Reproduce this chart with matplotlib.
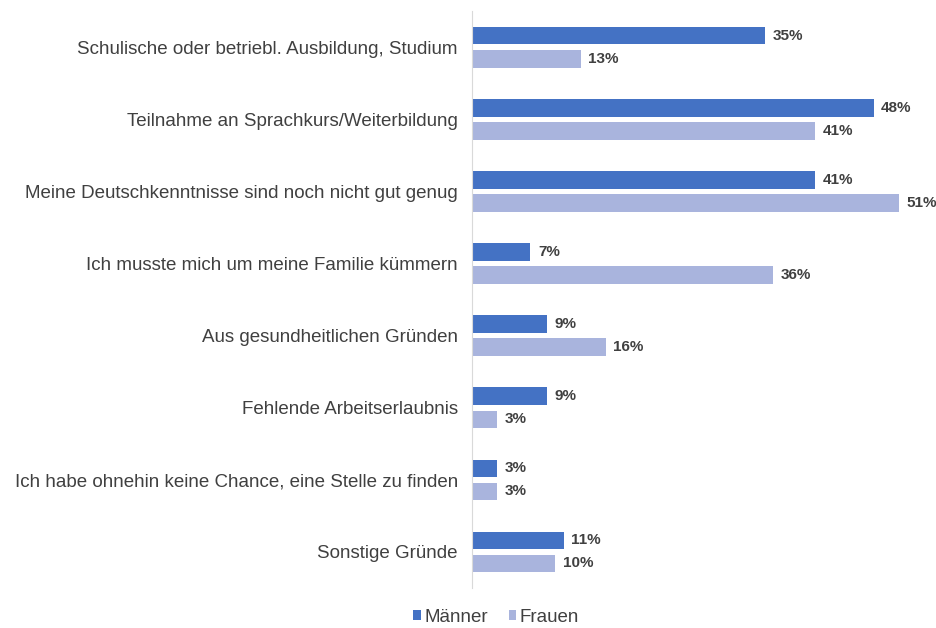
import matplotlib
matplotlib.use("Agg")
import matplotlib.pyplot as plt
import numpy as np

# Data
categories = [
    "Schulische oder betriebl. Ausbildung, Studium",
    "Teilnahme an Sprachkurs/Weiterbildung",
    "Meine Deutschkenntnisse sind noch nicht gut genug",
    "Ich musste mich um meine Familie kümmern",
    "Aus gesundheitlichen Gründen",
    "Fehlende Arbeitserlaubnis",
    "Ich habe ohnehin keine Chance, eine Stelle zu finden",
    "Sonstige Gründe",
]
maenner = [35, 48, 41, 7, 9, 9, 3, 11]
frauen = [13, 41, 51, 36, 16, 3, 3, 10]

plt.rcParams['font.family'] = ['Liberation Sans', 'DejaVu Sans']

fig = plt.figure(figsize=(9.36, 6.28), dpi=100)
ax = fig.add_axes([0.504, 0.064, 0.492, 0.918])

y = np.arange(len(categories))
h = 0.24
off = 0.16
dark = "#4472C4"
light = "#A9B4DD"
text_col = "#404040"

b1 = ax.barh(y - off, maenner, height=h, color=dark, label="Männer")
b2 = ax.barh(y + off, frauen, height=h, color=light, label="Frauen")

# value labels next to each bar
for bars, vals in [(b1, maenner), (b2, frauen)]:
    for bar, v in zip(bars, vals):
        ax.text(bar.get_width() + 0.9, bar.get_y() + bar.get_height() / 2,
                str(v) + "%", va="center", ha="left", fontsize=11,
                fontweight="bold", color=text_col, clip_on=False)

ax.set_xlim(0, 55)
ax.set_ylim(len(categories) - 0.5, -0.5)
ax.set_yticks(y)
ax.set_yticklabels(categories, fontsize=13.5, color=text_col)
ax.tick_params(axis="y", length=0, pad=10)
ax.set_xticks([])
for s in ["top", "right", "bottom"]:
    ax.spines[s].set_visible(False)
ax.spines["left"].set_color("#D9D9D9")

fig.legend(handles=[b1, b2], loc="center", bbox_to_anchor=(0.53, 0.017),
           ncol=2, frameon=False, fontsize=13.5, handlelength=0.4,
           handleheight=0.4, handletextpad=0.2, columnspacing=1.1,
           labelcolor=text_col)

fig.savefig("out.png", dpi=100)
